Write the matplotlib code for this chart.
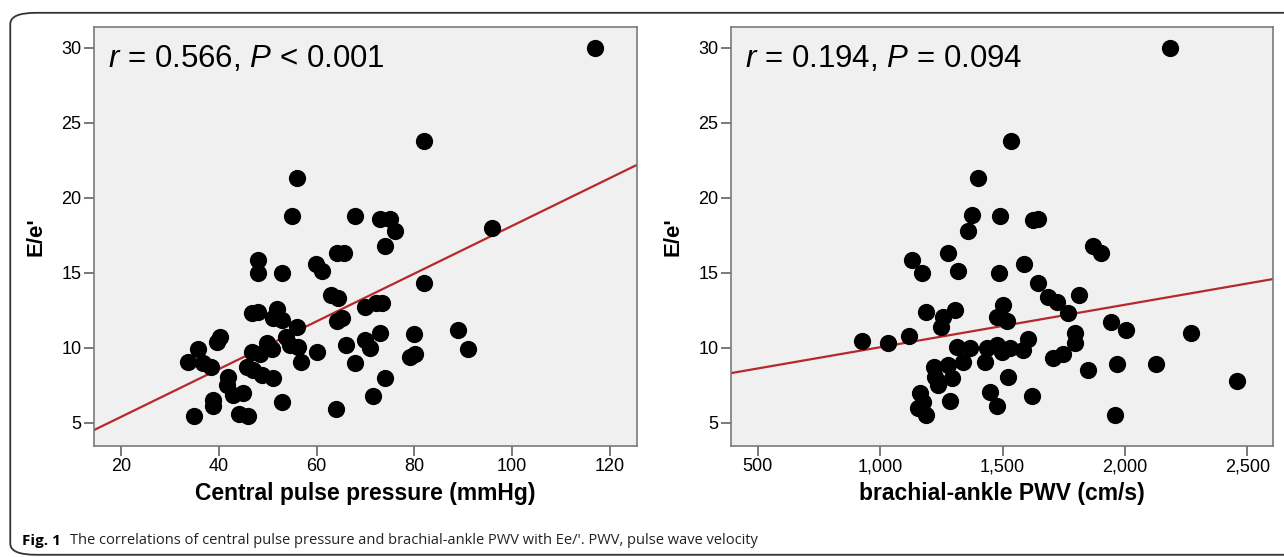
import numpy as np
import matplotlib
matplotlib.use('Agg')
import matplotlib.pyplot as plt
from matplotlib.patches import FancyBboxPatch

plt.rcParams['font.family'] = ['Liberation Sans', 'DejaVu Sans']
plt.rcParams['mathtext.fontset'] = 'custom'
plt.rcParams['mathtext.rm'] = 'Liberation Sans'
plt.rcParams['mathtext.it'] = 'Liberation Sans:italic'

# central pulse pressure (mmHg) vs E/e'
cpp = [55.9, 54.9, 67.8, 72.9, 75.0, 76.0, 73.9, 96.0, 81.9, 116.9,
       47.9, 47.9, 52.8, 59.8, 61.0, 64.1, 65.6, 63.0, 64.3, 81.9,
       46.7, 48.0, 51.8, 51.1, 52.8, 55.9, 64.1, 65.1, 69.9, 72.2,
       73.3, 72.9, 79.9, 88.9, 91.0, 40.2, 39.5, 35.8, 33.7, 36.8,
       38.3, 46.7, 48.4, 49.8, 50.8, 53.8, 54.5, 56.2, 56.8, 60.0,
       66.0, 67.8, 69.9, 70.9, 79.1, 80.1, 73.9, 45.7, 47.0, 48.9,
       51.1, 41.9, 41.6, 42.9, 45.0, 38.8, 38.8, 53.0, 34.9, 44.0,
       46.0, 63.9, 71.6]
cpp_ee = [21.3, 18.8, 18.8, 18.6, 18.6, 17.8, 16.8, 18.0, 23.8, 30.0,
          15.85, 15.0, 15.0, 15.6, 15.1, 16.3, 16.3, 13.5, 13.3, 14.3,
          12.3, 12.4, 12.6, 12.0, 11.85, 11.4, 11.75, 12.0, 12.7, 13.0,
          13.0, 11.0, 10.9, 11.2, 9.9, 10.7, 10.4, 9.9, 9.05, 8.96,
          8.7, 9.73, 9.6, 10.33, 9.9, 10.7, 10.2, 10.07, 9.03, 9.73,
          10.2, 8.96, 10.5, 10.0, 9.36, 9.6, 8.0, 8.7, 8.5, 8.2,
          7.96, 8.07, 7.5, 6.85, 7.0, 6.5, 6.1, 6.4, 5.47, 5.58,
          5.47, 5.9, 6.8]

# brachial-ankle PWV (cm/s) vs E/e'
bapwv = [1401, 1374, 1360, 1490, 1626, 1646, 1534, 2183,
         1129, 1170, 1279, 1320, 1487, 1589, 1644, 1684, 1721, 1769, 1810, 1871, 1902,
         1188, 1258, 1306, 1248, 1501, 1476, 1517,
         925, 1031, 1116, 1313, 1367, 1340, 1436, 1429, 1476, 1497, 1531, 1585, 1605,
         1707, 1748, 1796, 1796, 1848, 1944, 2003, 2268, 1966, 2125, 2458, 1958,
         1218, 1279, 1224, 1238, 1293, 1521, 1163, 1177, 1156, 1187, 1286, 1449,
         1476, 1619]
bapwv_ee = [21.3, 18.85, 17.8, 18.8, 18.5, 18.6, 23.8, 30.0,
            15.85, 15.0, 16.3, 15.1, 15.0, 15.6, 14.3, 13.4, 13.07, 12.3, 13.5, 16.8, 16.3,
            12.36, 12.07, 12.5, 11.4, 12.85, 12.07, 11.8,
            10.45, 10.33, 10.8, 10.07, 10.0, 9.07, 9.96, 9.07, 10.2, 9.73, 9.96, 9.85, 10.6,
            9.3, 9.6, 10.96, 10.3, 8.5, 11.7, 11.2, 11.0, 8.9, 8.9, 7.8, 5.5,
            8.73, 8.85, 8.07, 7.51, 7.96, 8.03, 6.96, 6.36, 5.96, 5.51, 6.47, 7.07,
            6.11, 6.8]

# fit lines as drawn in the figure (intercept, slope)
cpp_fit = (2.22, 0.159)
bapwv_fit = (7.20, 0.002833)

stats = ['$r$ = 0.566, $P$ < 0.001', '$r$ = 0.194, $P$ = 0.094']
xlabels = ['Central pulse pressure (mmHg)', 'brachial-ankle PWV (cm/s)']
xticks = [[20, 40, 60, 80, 100, 120], [500, 1000, 1500, 2000, 2500]]
xlims = [(14.4, 125.6), (391, 2604)]
yticks = [5, 10, 15, 20, 25, 30]

fig = plt.figure(figsize=(12.84, 5.57), dpi=100)
frame = FancyBboxPatch((0.008, 0.004), 1.05, 0.973, boxstyle='round,pad=0,rounding_size=0.02',
                       transform=fig.transFigure, fill=False, edgecolor='#333333', lw=1.3)
fig.patches.append(frame)

ax1 = fig.add_axes([0.0732, 0.1993, 0.4229, 0.7517])
ax2 = fig.add_axes([0.5693, 0.1993, 0.4221, 0.7517])

for ax, xs, ys, fit, txt, xl, xt, lim in zip([ax1, ax2], [cpp, bapwv], [cpp_ee, bapwv_ee],
                                              [cpp_fit, bapwv_fit], stats, xlabels, xticks, xlims):
    ax.set_facecolor('#f0f0f0')
    ax.scatter(xs, ys, s=130, color='black', zorder=3)
    ax.axline((0, fit[0]), slope=fit[1], color='#b5292b', lw=1.6, zorder=2)
    ax.set_xlim(*lim)
    ax.set_ylim(3.45, 31.36)
    ax.set_xticks(xt)
    ax.set_yticks(yticks)
    if xt[0] == 500:
        ax.set_xticklabels(['{:,}'.format(v) for v in xt])
    for s in ax.spines.values():
        s.set_color('#7a7a7a')
        s.set_linewidth(1.2)
    ax.tick_params(length=7, width=1.1, color='#555555', labelsize=13, pad=2)
    ax.set_xlabel(xl, fontsize=16.5, fontweight='bold')
    ax.set_ylabel("E/e'", fontsize=16, fontweight='bold')
    ax.xaxis.set_label_coords(0.5, -0.085)
    ax.yaxis.set_label_coords(-0.088, 0.5)
    ax.text(0.026, 0.905, txt, transform=ax.transAxes, fontsize=22.5, va='baseline')

fig.text(0.017, 0.029, 'Fig. 1', fontsize=11, fontweight='bold', family='Open Sans', va='center')
fig.text(0.0545, 0.029, "The correlations of central pulse pressure and brachial-ankle PWV with Ee/'. PWV, pulse wave velocity",
         fontsize=10.5, family='Open Sans', va='center', color='#222222')

fig.savefig('out.png', dpi=100)
